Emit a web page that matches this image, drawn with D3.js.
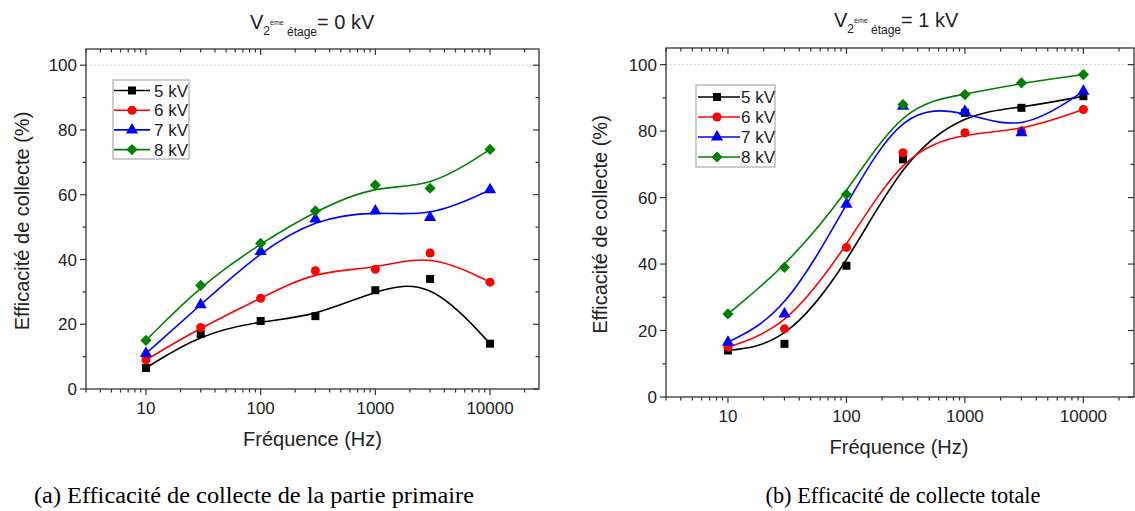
<!DOCTYPE html>
<html><head><meta charset="utf-8">
<script src="https://cdn.jsdelivr.net/npm/d3@7"></script>
<style>body{margin:0;background:#fff} svg{display:block}</style>
</head><body><svg id="c" width="1135" height="511"></svg>
<script>
const frequencies = [10, 30, 100, 300, 1000, 3000, 10000];
const seriesLabels = ["5 kV", "6 kV", "7 kV", "8 kV"];
const primary5kV = [6.5, 17, 21, 22.5, 30.5, 34, 14];
const primary6kV = [9, 19, 28, 36.5, 37, 42, 33];
const primary7kV = [11, 26, 42.5, 52.5, 55, 53, 61.5];
const primary8kV = [15, 32, 45, 55, 63, 62, 74];
const total5kV = [14, 16, 39.5, 71.5, 85.5, 87, 90.5];
const total6kV = [15, 20.5, 45, 73.5, 79.5, 80, 86.5];
const total7kV = [16.5, 25, 58, 87.5, 86, 79.5, 92];
const total8kV = [25, 39, 61, 88, 91, 94.5, 97];
const xTickLabels = ["10", "100", "1000", "10000"];
const yTickLabels = ["0", "20", "40", "60", "80", "100"];
const titleValues = ["= 0 kV", "= 1 kV"];
const xTitle = "Fréquence (Hz)";
const yTitle = "Efficacité de collecte (%)";
const captions = ["(a) Efficacité de collecte de la partie primaire", "(b) Efficacité de collecte totale"];

const colors = ["#000000", "#ff0000", "#0000ff", "#008000"];
const symbols = [d3.symbolSquare, d3.symbolCircle, d3.symbolTriangle, d3.symbolDiamond2];
const symSizes = [64, 64, 64, 80];

const svg = d3.select("#c");
const FONT = "'Liberation Sans', Arial, sans-serif";
const SERIF = "'Times New Roman', 'Liberation Serif', serif";

function panel(cfg, dataSets, titleVal) {
  const g = svg.append("g");
  const x = d3.scaleLog().domain([3, Math.pow(10, 4.427)]).range([cfg.x0, cfg.x1]);
  const y = d3.scaleLinear().domain([0, 105]).range([cfg.y1, cfg.y0]);

  g.append("line").attr("x1", cfg.x0).attr("x2", cfg.x1).attr("y1", y(100)).attr("y2", y(100))
    .attr("stroke", "#9ad89a").attr("stroke-width", 1).attr("stroke-dasharray", "1.5,2.5");

  g.append("rect").attr("x", cfg.x0).attr("y", cfg.y0).attr("width", cfg.x1 - cfg.x0).attr("height", cfg.y1 - cfg.y0)
    .attr("fill", "none").attr("stroke", "#333").attr("stroke-width", 1.3);

  const majorX = xTickLabels.map(Number);
  const minorX = [];
  for (let d = 1; d <= 10000; d *= 10) for (let m = 2; m <= 9; m++) { const v = d * m; if (v >= 3 && v <= x.domain()[1]) minorX.push(v); }
  const tk = g.append("g").attr("stroke", "#333").attr("stroke-width", 1.2);
  majorX.forEach(v => {
    tk.append("line").attr("x1", x(v)).attr("x2", x(v)).attr("y1", cfg.y1).attr("y2", cfg.y1 + 6);
    tk.append("line").attr("x1", x(v)).attr("x2", x(v)).attr("y1", cfg.y0).attr("y2", cfg.y0 + 6);
  });
  minorX.forEach(v => {
    tk.append("line").attr("x1", x(v)).attr("x2", x(v)).attr("y1", cfg.y1).attr("y2", cfg.y1 + 3.5);
    tk.append("line").attr("x1", x(v)).attr("x2", x(v)).attr("y1", cfg.y0).attr("y2", cfg.y0 + 3.5);
  });
  const majorY = yTickLabels.map(Number);
  const minorY = [10, 30, 50, 70, 90];
  majorY.forEach(v => {
    tk.append("line").attr("x1", cfg.x0 - 6).attr("x2", cfg.x0).attr("y1", y(v)).attr("y2", y(v));
    tk.append("line").attr("x1", cfg.x1 - 6).attr("x2", cfg.x1).attr("y1", y(v)).attr("y2", y(v));
  });
  minorY.forEach(v => {
    tk.append("line").attr("x1", cfg.x0 - 3.5).attr("x2", cfg.x0).attr("y1", y(v)).attr("y2", y(v));
    tk.append("line").attr("x1", cfg.x1 - 3.5).attr("x2", cfg.x1).attr("y1", y(v)).attr("y2", y(v));
  });

  xTickLabels.forEach(l => {
    g.append("text").attr("x", x(+l)).attr("y", cfg.y1 + 25).attr("text-anchor", "middle")
      .attr("font-family", FONT).attr("font-size", 17).attr("fill", "#222").text(l);
  });
  yTickLabels.forEach(l => {
    g.append("text").attr("x", cfg.x0 - 9).attr("y", y(+l)).attr("dy", "0.36em").attr("text-anchor", "end")
      .attr("font-family", FONT).attr("font-size", 17).attr("fill", "#222").text(l);
  });

  g.append("text").attr("x", (cfg.x0 + cfg.x1) / 2 + cfg.xtOff).attr("y", cfg.y1 + 57).attr("text-anchor", "middle")
    .attr("font-family", FONT).attr("font-size", 20).attr("fill", "#222").text(xTitle);
  g.append("text").attr("transform", `translate(${cfg.ytx},${(cfg.y0 + cfg.y1) / 2 + 2}) rotate(-90)`)
    .attr("text-anchor", "middle").attr("font-family", FONT).attr("font-size", 20).attr("fill", "#222").text(yTitle);

  const t = g.append("text").attr("x", cfg.tx).attr("y", cfg.ty).attr("font-family", FONT).attr("fill", "#222");
  t.append("tspan").attr("font-size", 20).text("V");
  t.append("tspan").attr("font-size", 12).attr("dy", 6).text("2");
  t.append("tspan").attr("font-size", 7).attr("dy", -10).text("ème");
  t.append("tspan").attr("font-size", 12).attr("dy", 11).text(" étage");
  t.append("tspan").attr("font-size", 20).attr("dy", -7).text(titleVal);

  const line = d3.line().x(d => x(d[0])).y(d => y(d[1])).curve(d3.curveBasis);
  dataSets.forEach((vals, i) => {
    const pts = frequencies.map((f, j) => [f, vals[j]]);
    g.append("path").attr("d", line(pts)).attr("fill", "none").attr("stroke", colors[i]).attr("stroke-width", 1.6);
  });
  dataSets.forEach((vals, i) => {
    g.selectAll(null).data(frequencies.map((f, j) => [f, vals[j]])).enter().append("path")
      .attr("d", d3.symbol().type(symbols[i]).size(symSizes[i]))
      .attr("transform", d => `translate(${x(d[0])},${y(d[1])})`)
      .attr("fill", colors[i]);
  });

  const L = cfg.leg;
  g.append("rect").attr("x", L.x).attr("y", L.y).attr("width", L.w).attr("height", L.h)
    .attr("fill", "#fff").attr("stroke", "#aaa").attr("stroke-width", 1.2);
  seriesLabels.forEach((s, i) => {
    const yy = L.e0 + i * L.step;
    g.append("line").attr("x1", L.l0).attr("x2", L.l1).attr("y1", yy).attr("y2", yy)
      .attr("stroke", colors[i]).attr("stroke-width", 1.6);
    g.append("path").attr("d", d3.symbol().type(symbols[i]).size(symSizes[i])())
      .attr("transform", `translate(${L.m},${yy})`).attr("fill", colors[i]);
    g.append("text").attr("x", L.tx).attr("y", yy).attr("dy", "0.36em")
      .attr("font-family", FONT).attr("font-size", 17).attr("fill", "#222").text(s);
  });
}

panel({x0: 86, x1: 539, y0: 49, y1: 389, xtOff: 0, ytx: 29, tx: 250, ty: 29,
       leg: {x: 113, y: 80, w: 76, h: 79, e0: 90.5, step: 19.7, l0: 114, l1: 150, m: 132, tx: 154}},
      [primary5kV, primary6kV, primary7kV, primary8kV], titleValues[0]);
panel({x0: 666, x1: 1134, y0: 48, y1: 397, xtOff: -1, ytx: 607, tx: 834, ty: 27,
       leg: {x: 696, y: 85, w: 79, h: 82, e0: 97, step: 20, l0: 698, l1: 740, m: 717, tx: 741}},
      [total5kV, total6kV, total7kV, total8kV], titleValues[1]);

svg.append("text").attr("x", 254).attr("y", 503).attr("text-anchor", "middle")
  .attr("font-family", SERIF).attr("font-size", 24)
  .attr("textLength", 440).attr("lengthAdjust", "spacingAndGlyphs").attr("fill", "#000").text(captions[0]);
svg.append("text").attr("x", 903).attr("y", 503).attr("text-anchor", "middle")
  .attr("font-family", SERIF).attr("font-size", 24)
  .attr("textLength", 275).attr("lengthAdjust", "spacingAndGlyphs").attr("fill", "#000").text(captions[1]);
</script></body></html>
